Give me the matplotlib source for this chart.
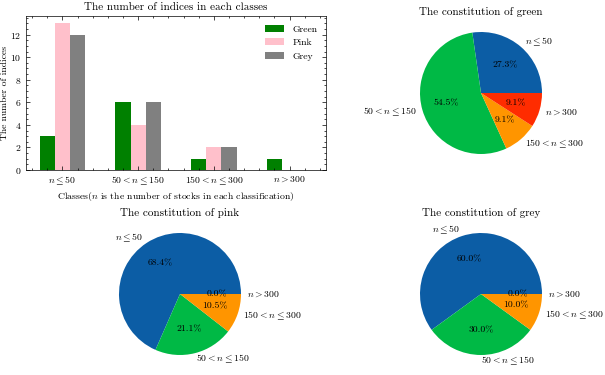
import matplotlib
matplotlib.use('Agg')
from matplotlib import pyplot as plt
import numpy as np

classes = [r'$n \leq 50$', r'$50 < n \leq 150$', r'$150 < n \leq 300$', r'$n > 300$']
green = [3, 6, 1, 1]
pink = [13, 4, 2, 0]
grey = [12, 6, 2, 0]

pie_colors = ['#0C5DA5', '#00B945', '#FF9500', '#FF2C00']

plt.rcParams['font.family'] = 'serif'
plt.rcParams['font.serif'] = ['cmr10', 'DejaVu Serif']
plt.rcParams['mathtext.fontset'] = 'cm'
plt.rcParams['axes.formatter.use_mathtext'] = True
plt.rcParams['axes.unicode_minus'] = False
plt.rcParams['font.size'] = 7
plt.rcParams['axes.linewidth'] = 0.5
plt.rcParams['xtick.direction'] = 'in'
plt.rcParams['ytick.direction'] = 'in'
plt.rcParams['xtick.top'] = True
plt.rcParams['ytick.right'] = True
plt.rcParams['xtick.minor.visible'] = True
plt.rcParams['ytick.minor.visible'] = True
plt.rcParams['xtick.major.size'] = 3
plt.rcParams['ytick.major.size'] = 3
plt.rcParams['xtick.minor.size'] = 1.5
plt.rcParams['ytick.minor.size'] = 1.5
plt.rcParams['xtick.major.width'] = 0.5
plt.rcParams['ytick.major.width'] = 0.5
plt.rcParams['xtick.minor.width'] = 0.5
plt.rcParams['ytick.minor.width'] = 0.5

W, H = 605, 375
fig = plt.figure(figsize=(W / 100, H / 100), dpi=100)

# bar chart
ax = fig.add_axes([26 / W, (H - 170) / H, 300 / W, 154 / H])
x = np.arange(len(classes))
ax.bar(x - 0.2, green, width=0.2, color='green', label='Green')
ax.bar(x, pink, width=0.2, color='pink', label='Pink')
ax.bar(x + 0.2, grey, width=0.2, color='grey', label='Grey')
ax.set_xticks(x)
ax.set_xticklabels(classes)
ax.set_title('The number of indices in each classes', fontsize=8, pad=4)
ax.set_xlabel(r'Classes($n$ is the number of stocks in each classification)', labelpad=2)
ax.set_ylabel('The number of indices')
ax.yaxis.set_label_coords(-0.058, 0.5)
ax.legend(loc='upper right', frameon=False, fontsize=7)


def draw_pie(cx, cy, values, title):
    r = 61
    side = 2.5 * r
    pax = fig.add_axes([(cx - side / 2) / W, (H - cy - side / 2) / H, side / W, side / H])
    pax.pie(values, labels=classes, colors=pie_colors, autopct='%1.1f%%',
            textprops={'fontsize': 7})
    pax.set_title(title, fontsize=8, pad=-1)


draw_pie(481, 93, green, 'The constitution of green')
draw_pie(180, 294, pink, 'The constitution of pink')
draw_pie(481, 294, grey, 'The constitution of grey')

fig.savefig('out.png', dpi=100)
